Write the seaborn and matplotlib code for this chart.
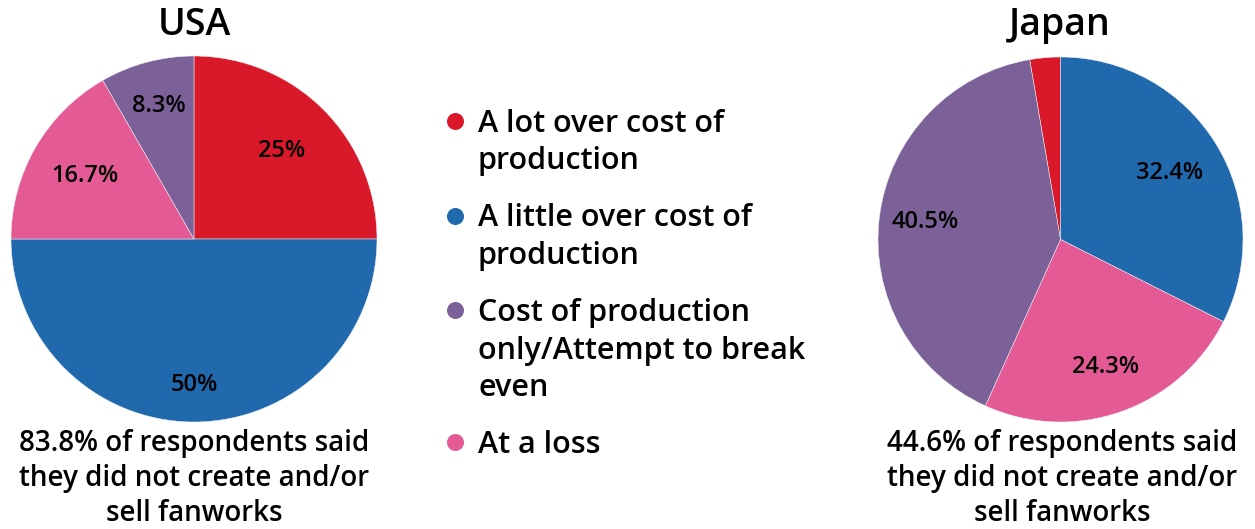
import textwrap

import matplotlib
matplotlib.use("Agg")
import matplotlib.pyplot as plt
import numpy as np
import pandas as pd
import seaborn as sns

# ---- data -------------------------------------------------------------
categories = [
    "A lot over cost of production",
    "A little over cost of production",
    "Cost of production only/Attempt to break even",
    "At a loss",
]
usa_pct = [25, 50, 8.3, 16.7]
japan_pct = [2.7, 32.4, 40.5, 24.3]
# order in which slices run clockwise round each pie
slice_order = [
    "A lot over cost of production",
    "A little over cost of production",
    "At a loss",
    "Cost of production only/Attempt to break even",
]
usa_caption = "83.8% of respondents said they did not create and/or sell fanworks"
japan_caption = "44.6% of respondents said they did not create and/or sell fanworks"

palette = {
    "A lot over cost of production": "#D9182A",
    "A little over cost of production": "#1F69AC",
    "Cost of production only/Attempt to break even": "#7B6198",
    "At a loss": "#E35A95",
}

# ---- style ------------------------------------------------------------
sns.set_theme(style="white")
FONT = ["Open Sans", "DejaVu Sans"]
plt.rcParams["font.family"] = FONT
plt.rcParams["text.color"] = "black"
WEIGHT = "semibold"

W, H = 1255, 529
fig = plt.figure(figsize=(W / 100, H / 100), dpi=100)
fig.patch.set_facecolor("white")


def fmt_pct(p):
    if p < 5:
        return ""
    return f"{p:.1f}".rstrip("0").rstrip(".") + "%"


def draw_pie(rect, pct, startangle, label_r):
    ax = fig.add_axes(rect)
    s = pd.Series(pct, index=categories).reindex(slice_order)
    wedges, _, autotexts = ax.pie(
        s.values,
        colors=[palette[c] for c in s.index],
        startangle=startangle,
        counterclock=False,
        autopct=fmt_pct,
        wedgeprops=dict(edgecolor="#f4f4f8", linewidth=0.35),
        textprops=dict(fontsize=17, color="black", fontweight=WEIGHT),
    )
    # place each percentage along its wedge's bisector
    for w, t, r in zip(wedges, autotexts, label_r):
        th = np.deg2rad((w.theta1 + w.theta2) / 2)
        t.set_position((r * np.cos(th), r * np.sin(th)))
    ax.set_xlim(-1, 1)
    ax.set_ylim(-1, 1)
    ax.set_aspect("equal")
    ax.axis("off")
    return ax


def px_rect(x0, y0, x1, y1):
    return [x0 / W, 1 - y1 / H, (x1 - x0) / W, (y1 - y0) / H]


draw_pie(px_rect(11, 56, 377, 422), usa_pct, 90, [0.68, 0.80, 0.69, 0.75])
jp_start = 90 + 360 * japan_pct[0] / sum(japan_pct)
draw_pie(px_rect(878, 57, 1243, 422), japan_pct, jp_start, [0.7, 0.70, 0.74, 0.75])

# ---- overlay for titles, captions and the shared legend ----------------
ov = fig.add_axes([0, 0, 1, 1])
ov.set_xlim(0, W)
ov.set_ylim(H, 0)
ov.axis("off")
ov.patch.set_alpha(0)

ov.text(194, 25, "USA", ha="center", va="center", fontsize=27,
        fontweight=WEIGHT, color="black")
ov.text(1060, 25, "Japan", ha="center", va="center", fontsize=27,
        fontweight=WEIGHT, color="black")

for cx, cap in [(194, usa_caption), (1062, japan_caption)]:
    for i, line in enumerate(textwrap.wrap(cap, 26)):
        ov.text(cx, 442 + 35 * i + 9, line, ha="center", va="baseline",
                fontsize=20, fontweight=WEIGHT, color="black")

y = 121
for cat in categories:
    ov.scatter([455], [y], s=150, color=palette[cat], linewidths=0)
    lines = textwrap.wrap(cat, 22)
    for i, line in enumerate(lines):
        ov.text(478, y + 37.5 * i + 11, line, ha="left", va="baseline",
                fontsize=22, fontweight=WEIGHT, color="black")
    y += 37.5 * len(lines) + 19.5

fig.savefig("out.png", dpi=100, facecolor="white")
